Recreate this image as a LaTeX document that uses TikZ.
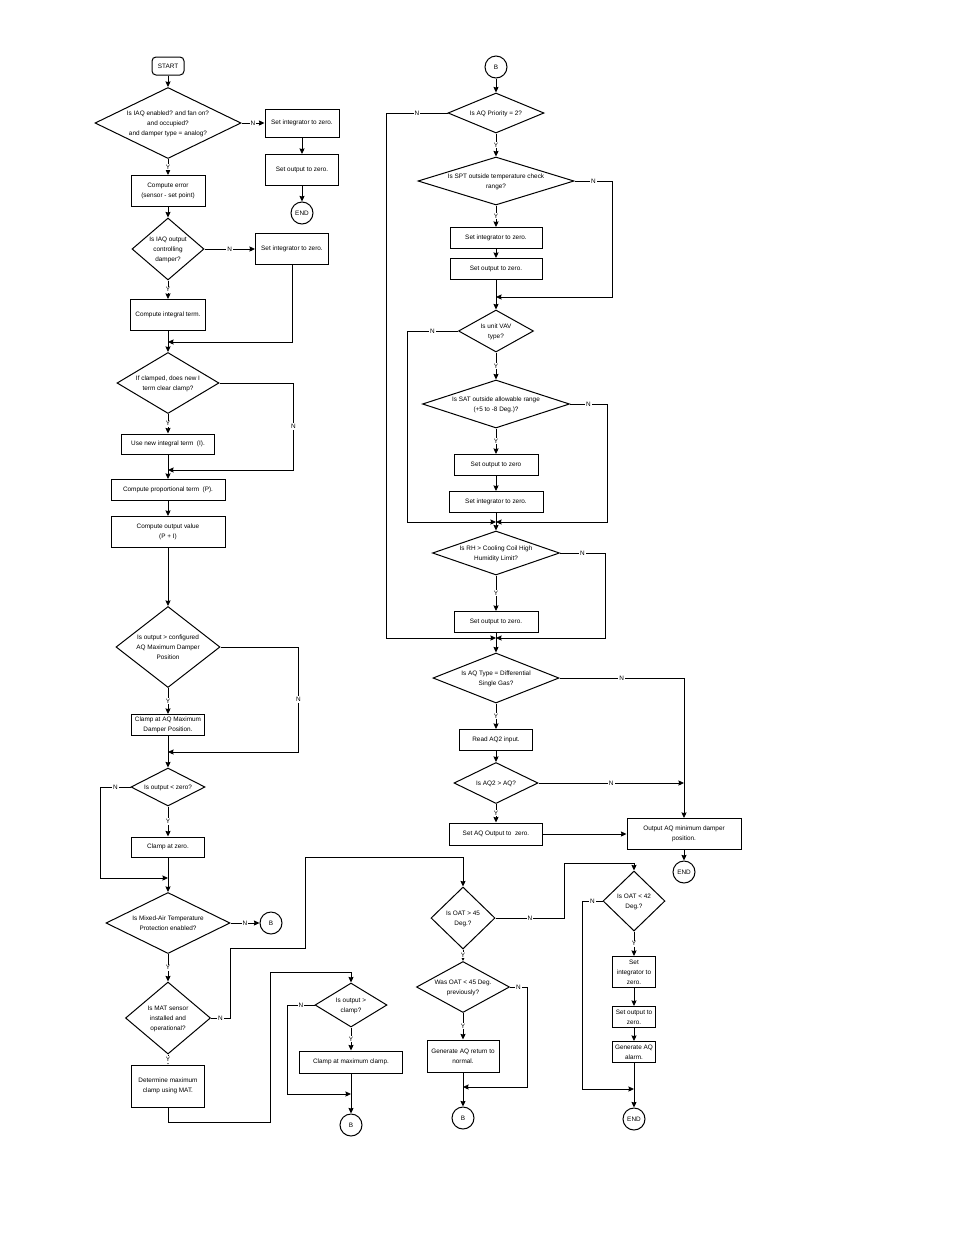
\documentclass[tikz,border=0pt]{standalone}
\usepackage{fontspec}
\setmainfont{Liberation Sans}
\usetikzlibrary{shapes.geometric, arrows, arrows.meta}
\tikzstyle{startstop} = [rectangle, rounded corners=4pt, minimum width=32pt, minimum height=18pt, text centered, draw=black, line width=1pt]
\tikzstyle{process} = [rectangle, inner sep=1pt, align=center, draw=black, line width=1pt]
\tikzstyle{decision} = [diamond, inner sep=0pt, draw=black, line width=1pt]
\tikzstyle{terminal} = [circle, minimum size=22pt, inner sep=0pt, draw=black, line width=1pt]
\tikzstyle{arrow} = [line width=0.9pt,->,>={Stealth[length=5.5pt,width=5pt,inset=0.5pt]}]
\tikzstyle{yes} = [fill=white, inner sep=1pt]
\tikzstyle{no} = [fill=white, inner sep=1pt]
\newcommand{\qtext}[1]{\makebox[0pt]{\smash{\raisebox{-1.5pt}{\begin{tabular}{@{}c@{}}#1\end{tabular}}}}}

\begin{document}
\begin{tikzpicture}[x=1pt, y=-1pt, font=\fontsize{6.4}{10}\selectfont]
			\useasboundingbox (0,0) rectangle (954,1235);
			% left column
			\node (start) [startstop] at (168,66) {START};
			\node (d1) [decision, minimum width=146pt, minimum height=71pt] at (168,123) {\qtext{Is IAQ enabled? and fan on?\\and occupied?\\and damper type = analog?}};
			\node (zero1) [process, minimum width=74pt, minimum height=28pt] at (302,123) {Set integrator to zero.};
			\node (out1) [process, minimum width=73pt, minimum height=31pt] at (302,170) {Set output to zero.};
			\node (end1) [terminal] at (302,213) {END};
			\node (err) [process, minimum width=74pt, minimum height=31pt] at (168,191) {Compute error\\(sensor - set point)};
			\node (d2) [decision, minimum width=72pt, minimum height=62pt] at (168,249) {\qtext{Is IAQ output\\controlling\\damper?}};
			\node (zero2) [process, minimum width=73pt, minimum height=31pt] at (292,249) {Set integrator to zero.};
			\node (integ) [process, minimum width=75pt, minimum height=31pt] at (168,315) {Compute integral term.};
			\coordinate (m1) at (168,342);
			\node (d3) [decision, minimum width=102pt, minimum height=61pt] at (168,383) {\qtext{If clamped, does new I\\term clear clamp?}};
			\node (newi) [process, minimum width=93pt, minimum height=20pt] at (168,444) {Use new integral term\ \ (I).};
			\coordinate (m2) at (168,470);
			\node (prop) [process, minimum width=114pt, minimum height=21pt] at (168,490) {Compute proportional term\ \ (P).};
			\node (outv) [process, minimum width=114pt, minimum height=31pt] at (168,532) {Compute output value\\(P + I)};
			\node (d4) [decision, minimum width=104pt, minimum height=81pt] at (168,647) {\qtext{Is output > configured\\AQ Maximum Damper\\Position}};
			\node (clmax) [process, minimum width=73pt, minimum height=21pt] at (168,725) {Clamp at AQ Maximum\\Damper Position.};
			\coordinate (m3) at (168,752);
			\node (d5) [decision, minimum width=74pt, minimum height=38pt] at (168,787) {\qtext{Is output < zero?}};
			\node (clzero) [process, minimum width=73pt, minimum height=20pt] at (168,847) {Clamp at zero.};
			\coordinate (m4) at (168,878);
			\node (d6) [decision, minimum width=124pt, minimum height=61pt] at (168,923) {\qtext{Is Mixed-Air Temperature\\Protection enabled?}};
			\node (b1) [terminal] at (271,923) {B};
			\node (d7) [decision, minimum width=85pt, minimum height=72pt] at (168,1018) {\qtext{Is MAT sensor\\installed and\\operational?}};
			\node (mat) [process, minimum width=73pt, minimum height=42pt] at (168,1086) {Determine maximum\\clamp using MAT.};
			% bottom row
			\node (d8) [decision, minimum width=72pt, minimum height=44pt] at (351,1005) {\qtext{Is output >\\clamp?}};
			\node (clmc) [process, minimum width=103pt, minimum height=22pt] at (351,1062) {Clamp at maximum clamp.};
			\coordinate (m5) at (351,1094);
			\node (b2) [terminal] at (351,1125) {B};
			\node (d9) [decision, minimum width=64pt, minimum height=62pt] at (463,918) {\qtext{Is OAT > 45\\Deg.?}};
			\node (d11) [decision, minimum width=93pt, minimum height=51pt] at (463,987) {\qtext{Was OAT < 45 Deg.\\previously?}};
			\node (aqn) [process, minimum width=72pt, minimum height=32pt] at (463,1056) {Generate AQ return to\\normal.};
			\coordinate (m6) at (463,1087);
			\node (b3) [terminal] at (463,1118) {B};
			\node (d10) [decision, minimum width=62pt, minimum height=60pt] at (634,901) {\qtext{Is OAT < 42\\Deg.?}};
			\node (zero3) [process, minimum width=43pt, minimum height=31pt] at (634,972) {Set\\integrator to\\zero.};
			\node (out3) [process, minimum width=43pt, minimum height=21pt] at (634,1017) {Set output to\\zero.};
			\node (alarm) [process, minimum width=43pt, minimum height=21pt] at (634,1052) {Generate AQ\\alarm.};
			\coordinate (m7) at (634,1089);
			\node (end3) [terminal] at (634,1119) {END};
			% right column
			\node (b0) [terminal] at (496,67) {B};
			\node (d12) [decision, minimum width=96pt, minimum height=40pt] at (496,113) {\qtext{Is AQ Priority = 2?}};
			\node (d13) [decision, minimum width=156pt, minimum height=48pt] at (496,181) {\qtext{Is SPT outside temperature check\\range?}};
			\node (zero4) [process, minimum width=92pt, minimum height=21pt] at (496,238) {Set integrator to zero.};
			\node (out4) [process, minimum width=92pt, minimum height=21pt] at (496,269) {Set output to zero.};
			\coordinate (m8) at (496,297);
			\node (d14) [decision, minimum width=75pt, minimum height=42pt] at (496,331) {\qtext{Is unit VAV\\type?}};
			\node (d15) [decision, minimum width=147pt, minimum height=48pt] at (496,404) {\qtext{Is SAT outside allowable range\\(+5 to -8 Deg.)?}};
			\node (out5) [process, minimum width=84pt, minimum height=21pt] at (496,465) {Set output to zero};
			\node (zero5) [process, minimum width=94pt, minimum height=21pt] at (496,502) {Set integrator to zero.};
			\coordinate (m9) at (496,522);
			\node (d16) [decision, minimum width=127pt, minimum height=44pt] at (496,553) {\qtext{Is RH > Cooling Coil High\\Humidity Limit?}};
			\node (out6) [process, minimum width=84pt, minimum height=21pt] at (496,622) {Set output to zero.};
			\coordinate (m10) at (496,638);
			\node (d17) [decision, minimum width=126pt, minimum height=50pt] at (496,678) {\qtext{Is AQ Type = Differential\\Single Gas?}};
			\node (aq2) [process, minimum width=73pt, minimum height=21pt] at (496,740) {Read AQ2 input.};
			\node (d18) [decision, minimum width=84pt, minimum height=41pt] at (496,783) {\qtext{Is AQ2 > AQ?}};
			\node (setaq) [process, minimum width=93pt, minimum height=22pt] at (496,834) {Set AQ Output to\ \ zero.};
			\node (outmin) [process, minimum width=114pt, minimum height=31pt] at (684,834) {Output AQ minimum damper\\position.};
			\coordinate (m11) at (684,783);
			\node (end2) [terminal] at (684,872) {END};

			\draw [arrow] (start) -- (d1);
			\draw [arrow] (d1) -- node[no]{N} (zero1);
			\draw [arrow] (zero1) -- (out1);
			\draw [arrow] (out1) -- (end1);
			\draw [arrow] (d1) -- node[yes]{Y} (err);
			\draw [arrow] (err) -- (d2);
			\draw [arrow] (d2) -- node[no]{N} (zero2);
			\draw [arrow] (d2) -- node[yes]{Y} (integ);
			\draw [arrow] (integ) -- (d3);
			\draw [arrow] (zero2.south) |- (m1);
			\draw [arrow] (d3) -- node[yes]{Y} (newi);
			\draw [arrow] (d3.east) -- ++(74,0) |- node[no, pos=0.25]{N} (m2);
			\draw [arrow] (newi) -- (prop);
			\draw [arrow] (prop) -- (outv);
			\draw [arrow] (outv) -- (d4);
			\draw [arrow] (d4) -- node[yes]{Y} (clmax);
			\draw [arrow] (d4.east) -- ++(78,0) |- node[no, pos=0.25]{N} (m3);
			\draw [arrow] (clmax) -- (d5);
			\draw [arrow] (d5) -- node[yes]{Y} (clzero);
			\draw [arrow] (d5.west) -- node[no]{N} ++(-30,0) |- (m4);
			\draw [arrow] (clzero) -- (d6);
			\draw [arrow] (d6) -- node[no]{N} (b1);
			\draw [arrow] (d6) -- node[yes]{Y} (d7);
			\draw [arrow] (d7) -- node[yes]{Y} (mat);
			\draw [arrow] (d7.east) -- node[no]{N} ++(19,0) -- ++(0,-70) -- ++(75,0) -- ++(0,-91) -| (d9.north);
			\draw [arrow] (mat.south) -- ++(0,15) -- ++(102,0) -- ++(0,-150) -| (d8.north);
			\draw [arrow] (d8) -- node[yes]{Y} (clmc);
			\draw [arrow] (d8.west) -- node[no]{N} ++(-27,0) |- (m5);
			\draw [arrow] (clmc) -- (b2);
			\draw [arrow] (d9) -- node[yes]{Y} (d11);
			\draw [arrow] (d9.east) -- node[no]{N} ++(69,0) -- ++(0,-55) -| (d10.north);
			\draw [arrow] (d11) -- node[yes]{Y} (aqn);
			\draw [arrow] (d11.east) -- node[no]{N} ++(17,0) |- (m6);
			\draw [arrow] (aqn) -- (b3);
			\draw [arrow] (d10) -- node[yes]{Y} (zero3);
			\draw [arrow] (zero3) -- (out3);
			\draw [arrow] (out3) -- (alarm);
			\draw [arrow] (alarm) -- (end3);
			\draw [arrow] (d10.west) -- node[no]{N} ++(-20,0) |- (m7);

			\draw [arrow] (b0) -- (d12);
			\draw [arrow] (d12) -- node[yes]{Y} (d13);
			\draw [arrow] (d12.west) -- node[no]{N} ++(-61,0) |- (m10);
			\draw [arrow] (d13) -- node[yes]{Y} (zero4);
			\draw [arrow] (d13.east) -- node[no]{N} ++(38,0) |- (m8);
			\draw [arrow] (zero4) -- (out4);
			\draw [arrow] (out4) -- (d14);
			\draw [arrow] (d14) -- node[yes]{Y} (d15);
			\draw [arrow] (d14.west) -- node[no]{N} ++(-51,0) |- (m9);
			\draw [arrow] (d15) -- node[yes]{Y} (out5);
			\draw [arrow] (d15.east) -- node[no]{N} ++(37,0) |- (m9);
			\draw [arrow] (out5) -- (zero5);
			\draw [arrow] (zero5) -- (d16);
			\draw [arrow] (d16) -- node[yes]{Y} (out6);
			\draw [arrow] (d16.east) -- node[no]{N} ++(45,0) |- (m10);
			\draw [arrow] (out6) -- (d17);
			\draw [arrow] (d17) -- node[yes]{Y} (aq2);
			\draw [arrow] (d17.east) -| node[no, pos=0.25]{N} (outmin.north);
			\draw [arrow] (aq2) -- (d18);
			\draw [arrow] (d18) -- node[yes]{Y} (setaq);
			\draw [arrow] (d18.east) -- node[no]{N} (m11);
			\draw [arrow] (setaq) -- (outmin);
			\draw [arrow] (outmin) -- (end2);
			\end{tikzpicture}
\end{document}
